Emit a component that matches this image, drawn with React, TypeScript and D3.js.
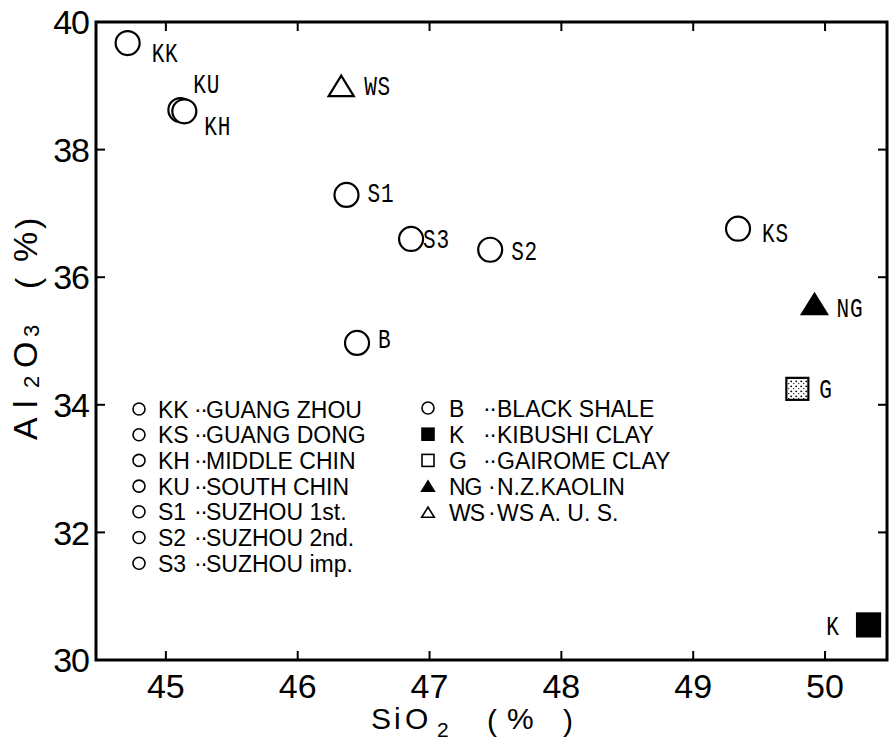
import React from "react";
import * as d3 from "d3";

// ---- data ----
const codes = ["KK", "KU", "KH", "WS", "S1", "S3", "S2", "B", "KS", "NG", "G", "K"];
const sio2 = [44.71, 45.11, 45.14, 46.33, 46.37, 46.86, 47.46, 46.45, 49.34, 49.92, 49.79, 50.33];
const al2o3 = [39.67, 38.62, 38.6, 38.98, 37.29, 36.6, 36.43, 34.97, 36.76, 35.56, 34.25, 30.55];
const markerTypes = [
  "circle", "circle", "circle", "triangleOpen", "circle", "circle", "circle",
  "circle", "circle", "triangleFilled", "squareDotted", "squareFilled",
];

const xTickValues = [45, 46, 47, 48, 49, 50];
const yTickValues = [30, 32, 34, 36, 38, 40];

const legendCodes1 = ["KK", "KS", "KH", "KU", "S1", "S2", "S3"];
const legendNames1 = ["GUANG ZHOU", "GUANG DONG", "MIDDLE CHIN", "SOUTH CHIN", "SUZHOU 1st.", "SUZHOU 2nd.", "SUZHOU imp."];
const legendCodes2 = ["B", "K", "G", "NG", "WS"];
const legendNames2 = ["BLACK SHALE", "KIBUSHI CLAY", "GAIROME CLAY", "N.Z.KAOLIN", "WS A. U. S."];
const legendMarkers2 = ["circle", "squareFilled", "squareOpen", "triangleFilled", "triangleOpen"];
const legendSeps2 = ["··", "··", "··", "·", "·"];

// ---- layout (label offsets relative to the point) ----
const labelOffsets: Record<string, [number, number, string]> = {
  KK: [24, 19, "start"],
  KU: [13, -17, "start"],
  KH: [20, 24, "start"],
  WS: [23, 8, "start"],
  S1: [21, 7, "start"],
  S3: [12, 9, "start"],
  S2: [21, 10, "start"],
  B: [21, 5, "start"],
  KS: [24, 13, "start"],
  NG: [22, 12, "start"],
  G: [22, 9, "start"],
  K: [-29, 10, "end"],
};

const W = 892;
const H = 744;
const left = 96, right = 887, top = 22, bottom = 660;

const x = d3.scaleLinear().domain([44.47, 50.47]).range([left, right]);
const y = d3.scaleLinear().domain([30, 40]).range([bottom, top]);

function Marker({ type, cx, cy, s }: { type: string; cx: number; cy: number; s: number }) {
  const sw = s > 8 ? 2.2 : 1.6;
  if (type === "circle") return <circle cx={cx} cy={cy} r={s} fill="white" stroke="black" strokeWidth={sw} />;
  if (type === "triangleOpen" || type === "triangleFilled") {
    const pts = [
      [cx, cy - s * 0.95],
      [cx - s * 1.05, cy + s * 0.75],
      [cx + s * 1.05, cy + s * 0.75],
    ];
    return (
      <polygon
        points={pts.map((p) => p.join(",")).join(" ")}
        fill={type === "triangleFilled" ? "black" : "white"}
        stroke="black"
        strokeWidth={sw}
        strokeLinejoin="miter"
      />
    );
  }
  const fill = type === "squareFilled" ? "black" : type === "squareDotted" ? "url(#stipple)" : "white";
  return <rect x={cx - s} y={cy - s} width={2 * s} height={2 * s} fill={fill} stroke="black" strokeWidth={sw} />;
}

export default function App() {
  const labelFont = "'Liberation Mono', 'DejaVu Sans Mono', monospace";
  const sansFont = "'Liberation Sans', Arial, sans-serif";
  const tickLen = 9;
  return (
    <svg width={W} height={H} style={{ position: "absolute", left: 0, top: 0, background: "white" }}>
      <defs>
        <pattern id="stipple" width="5" height="5" patternUnits="userSpaceOnUse">
          <rect width="5" height="5" fill="white" />
          <circle cx="1.2" cy="1.3" r="0.9" fill="black" />
          <circle cx="3.7" cy="3.6" r="0.7" fill="black" />
        </pattern>
      </defs>
      <rect x={0} y={0} width={W} height={H} fill="white" />

      {/* ticks (inward, all four sides) */}
      {xTickValues.map((v) => (
        <g key={"xt" + v}>
          <line x1={x(v)} x2={x(v)} y1={bottom} y2={bottom - tickLen} stroke="black" strokeWidth={2} />
          <line x1={x(v)} x2={x(v)} y1={top} y2={top + tickLen} stroke="black" strokeWidth={2} />
          <text x={x(v)} y={698} textAnchor="middle" fontFamily={sansFont} fontSize={34} fill="black">
            {v}
          </text>
        </g>
      ))}
      {yTickValues.map((v) => (
        <g key={"yt" + v}>
          <line x1={left} x2={left + tickLen} y1={y(v)} y2={y(v)} stroke="black" strokeWidth={2} />
          <line x1={right} x2={right - tickLen} y1={y(v)} y2={y(v)} stroke="black" strokeWidth={2} />
          <text x={89} y={y(v)} dy="0.36em" textAnchor="end" fontFamily={sansFont} fontSize={34} fill="black" letterSpacing={-1}>
            {v}
          </text>
        </g>
      ))}

      {/* frame */}
      <rect x={left} y={top} width={right - left} height={bottom - top} fill="none" stroke="black" strokeWidth={3} />

      {/* axis titles */}
      <text fontFamily={sansFont} fontSize={30} fill="black">
        <tspan x={371} y={729}>S</tspan>
        <tspan x={394} y={729}>i</tspan>
        <tspan x={405} y={729}>O</tspan>
        <tspan x={437} y={737} fontSize={21}>2</tspan>
        <tspan x={487} y={731}>(</tspan>
        <tspan x={507} y={729}>%</tspan>
        <tspan x={563} y={731}>)</tspan>
      </text>
      <g transform="translate(37,0) rotate(-90)">
        <text fontFamily={sansFont} fontSize={34} fill="black">
          <tspan x={-440} y={0}>A</tspan>
          <tspan x={-408} y={0}>l</tspan>
          <tspan x={-388} y={2} fontSize={22}>2</tspan>
          <tspan x={-368} y={0}>O</tspan>
          <tspan x={-337} y={2} fontSize={22}>3</tspan>
          <tspan x={-289} y={2}>(</tspan>
          <tspan x={-262} y={0}>%</tspan>
          <tspan x={-229} y={2}>)</tspan>
        </text>
      </g>

      {/* points */}
      {codes.map((c, i) => {
        const cx = x(sio2[i]);
        const cy = y(al2o3[i]);
        const t = markerTypes[i];
        const s = t === "circle" ? 12 : t.startsWith("triangle") ? 12 : t === "squareFilled" ? 11.5 : 11;
        const [dx, dy, anchor] = labelOffsets[c];
        return (
          <g key={c}>
            <Marker type={t} cx={cx} cy={cy} s={s} />
            <text
              transform={`translate(${cx + dx},${cy + dy}) scale(0.78,1)`}
              x={0}
              y={0}
              textAnchor={anchor as any}
              fontFamily={labelFont}
              fontSize={27}
              fill="black"
              letterSpacing={1}
            >
              {c}
            </text>
          </g>
        );
      })}

      {/* legend column 1 */}
      {legendCodes1.map((c, i) => {
        const cy = 409 + i * 25.7;
        return (
          <g key={"l1" + c}>
            <Marker type="circle" cx={139} cy={cy} s={6} />
            <text x={158} y={cy + 8.5} fontFamily={sansFont} fontSize={23} fill="black">{c}</text>
            <text x={194} y={cy + 7.5} fontFamily={sansFont} fontSize={23} fill="black" letterSpacing={-1.5}>··</text>
            <text x={206} y={cy + 8.5} fontFamily={sansFont} fontSize={23} fill="black">{legendNames1[i]}</text>
          </g>
        );
      })}

      {/* legend column 2 */}
      {legendCodes2.map((c, i) => {
        const cy = 408 + i * 26.2;
        const m = legendMarkers2[i];
        return (
          <g key={"l2" + c}>
            <Marker type={m} cx={428} cy={cy} s={6} />
            <text x={449} y={cy + 8.5} fontFamily={sansFont} fontSize={23} fill="black" letterSpacing={c.length > 1 ? -1 : 0}>{c}</text>
            <text x={legendSeps2[i].length > 1 ? 483 : 488} y={cy + 7.5} fontFamily={sansFont} fontSize={23} fill="black" letterSpacing={-1.5}>
              {legendSeps2[i]}
            </text>
            <text x={497} y={cy + 8.5} fontFamily={sansFont} fontSize={23} fill="black">{legendNames2[i]}</text>
          </g>
        );
      })}
    </svg>
  );
}
